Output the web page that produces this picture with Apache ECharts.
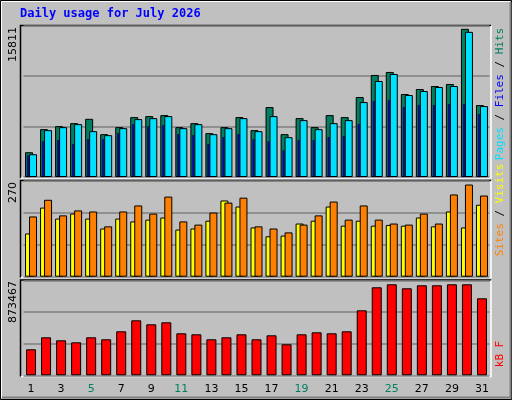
<!DOCTYPE html>
<html><head><meta charset="utf-8">
<script src="https://cdn.jsdelivr.net/npm/echarts@6/dist/echarts.min.js"></script>
<style>html,body{margin:0;padding:0;background:#c0c0c0}#c{width:512px;height:400px}</style>
</head><body><div id="c"></div>
<script>
const days = ['1','2','3','4','5','6','7','8','9','10','11','12','13','14','15','16','17','18','19','20','21','22','23','24','25','26','27','28','29','30','31'];
const weekend = ['4','5','11','12','18','19','25','26'];
const hits = [2586,4994,5308,5622,6073,4471,5204,6251,6355,6460,5204,5622,4575,5204,6251,4890,7298,4471,6146,5204,6460,6251,8345,10648,10962,8659,9182,9496,9706,15464,7507];
const files = [2377,4890,5204,5518,4785,4366,5099,6041,6146,6355,5099,5518,4471,5099,6146,4785,6355,4157,5936,4994,5622,5936,7821,10020,10753,8554,8973,9392,9496,15150,7402];
const pages = [2272,3738,3842,3424,3947,3947,4575,5518,5308,5413,4471,4366,3424,4157,4471,3947,3738,2795,3842,3842,4157,4261,5518,7926,8030,7298,7507,7507,7612,7612,6565];
const visits = [170,217,173,187,184,142,184,201,178,226,156,147,181,209,223,142,136,125,147,173,212,161,201,161,150,147,178,150,232,260,229];
const sites = [122,195,164,178,164,136,164,156,161,167,133,136,158,215,198,139,114,116,150,158,198,144,158,144,146,144,167,142,184,139,203];
const kbytes = [239044,349372,321790,303402,349372,330984,404536,505670,468894,487282,386148,376954,330984,349372,376954,330984,367760,285014,376954,395342,386148,404536,597610,809072,836654,799878,827460,827460,836654,836654,707938];
const axisMax = [15811, 270, 873467];
const title = 'Daily usage for July 2026';

const mono = 'DejaVu Sans Mono';
const L = 23.5, W = 466;
const grids = [
  {left:L, width:W, top:25.5, height:151.5},
  {left:L, width:W, top:181, height:95.7},
  {left:L, width:W, top:280.3, height:95}
];
function xa(g, show){return {type:'category', gridIndex:g, data:days, show:true,
  axisLine:{show:false}, axisTick:{show:false},
  axisLabel:{show:show, margin:8, fontFamily:'DejaVu Sans', fontSize:11,
    color:(v)=>weekend.includes(v)?'#008060':'#000'}};}
function ya(g){return {type:'value', gridIndex:g, min:0, max:axisMax[g], interval:axisMax[g]/3,
  axisLabel:{show:false}, axisLine:{show:false}, axisTick:{show:false},
  splitLine:{show:true, lineStyle:{color:'#808080', width:1.5}}};}
const bs = (c)=>({color:c, borderColor:'#000', borderWidth:1});

const option = {
  animation:false,
  backgroundColor:'#c0c0c0',
  grid:grids,
  xAxis:[xa(0,false), xa(1,false), xa(2,true),
    {type:'category', gridIndex:0, data:days, show:false}],
  yAxis:[ya(0), ya(1), ya(2),
    {type:'value', gridIndex:0, min:0, max:axisMax[0], show:false, splitLine:{show:false}}],
  series:[
    {type:'bar', xAxisIndex:0, yAxisIndex:0, data:hits, barWidth:8, barGap:'-50%', itemStyle:bs('#008060')},
    {type:'bar', xAxisIndex:0, yAxisIndex:0, data:files, barWidth:8, barGap:'-50%', itemStyle:bs('#00e0ff')},
    {type:'bar', xAxisIndex:3, yAxisIndex:3, data:pages, barWidth:2, barGap:'200%', itemStyle:{color:'#0000ff', borderColor:'#000', borderWidth:0.5}, z:5},
    {type:'bar', xAxisIndex:3, yAxisIndex:3, data:pages.map(()=>0), barWidth:2, barGap:'200%', itemStyle:{color:'transparent'}},
    {type:'bar', xAxisIndex:1, yAxisIndex:1, data:sites, barWidth:8, barGap:'-50%', itemStyle:bs('#ffff00')},
    {type:'bar', xAxisIndex:1, yAxisIndex:1, data:visits, barWidth:8, barGap:'-50%', itemStyle:bs('#ff8000')},
    {type:'bar', xAxisIndex:2, yAxisIndex:2, data:kbytes, barWidth:10, itemStyle:bs('#ff0000')}
  ],
  graphic:[
    {type:'rect', shape:{x:0.5,y:0.5,width:511,height:399}, style:{fill:'none', stroke:'#000', lineWidth:1}, z:-1},
    {type:'polyline', shape:{points:[[1.5,398],[1.5,1.5],[510,1.5]]}, style:{stroke:'#fff', lineWidth:1, fill:'none'}},
    {type:'polyline', shape:{points:[[2,397.5],[510.5,397.5],[510.5,2]]}, style:{stroke:'#808080', lineWidth:2, fill:'none'}},
    // panel frames
    ...[[25,178],[180,277.5],[279.5,376.5]].map(([t,b])=>({type:'polyline', shape:{points:[[20.5,b],[20.5,t+0.5],[491,t+0.5]]}, style:{stroke:'#000', lineWidth:1.5, fill:'none'}})),
    ...[[25,178],[180,277.5],[279.5,376.5]].map(([t,b])=>({type:'polyline', shape:{points:[[21,b],[491,b],[491,t+1]]}, style:{stroke:'#fff', lineWidth:1.5, fill:'none'}})),
    {type:'text', left:20, top:8, style:{text:title, fill:'#0000ff', font:'bold 12px "DejaVu Sans Mono"'}},
    ...[[27,0],[182,1],[281,2]].map(([y,i])=>({type:'text', x:8, y:y, rotation:Math.PI/2,
      style:{text:String(axisMax[i]), fill:'#000', font:'11px "DejaVu Sans"', align:'right', verticalAlign:'top'}})),
    {type:'text', x:495, y:94, rotation:Math.PI/2, style:{text:'{a|Pages}{s| / }{b|Files}{s| / }{c|Hits}', align:'center', verticalAlign:'top',
      rich:{a:{fill:'#00e0ff',font:'11px "DejaVu Sans Mono"'}, b:{fill:'#0000ff',font:'11px "DejaVu Sans Mono"'}, c:{fill:'#008060',font:'11px "DejaVu Sans Mono"'}, s:{fill:'#000',font:'11px "DejaVu Sans Mono"'}}}},
    {type:'text', x:495, y:210, rotation:Math.PI/2, style:{text:'{a|Sites}{s| / }{b|Visits}', align:'center', verticalAlign:'top',
      rich:{a:{fill:'#ff8000',font:'11px "DejaVu Sans Mono"'}, b:{fill:'#ffff00',font:'11px "DejaVu Sans Mono"'}, s:{fill:'#000',font:'11px "DejaVu Sans Mono"'}}}},
    {type:'text', x:495, y:354, rotation:Math.PI/2, style:{text:'kB F', align:'center', verticalAlign:'top', fill:'#ff0000', font:'11px "DejaVu Sans Mono"'}}
  ]
};
echarts.init(document.getElementById('c')).setOption(option);
</script></body></html>
